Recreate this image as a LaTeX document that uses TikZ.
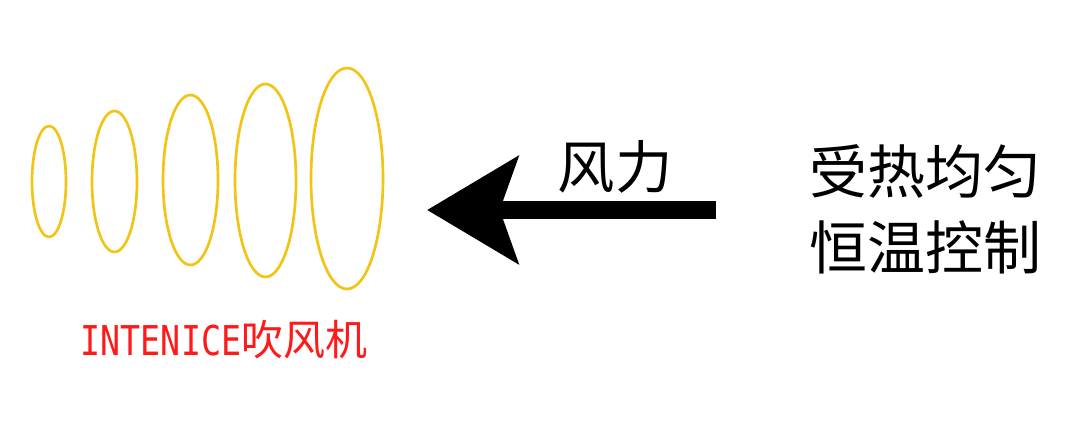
\documentclass[tikz,border=0pt]{standalone}
\usepackage{fontspec}
\usetikzlibrary{arrows.meta}
\newfontfamily\cjk{Noto Sans CJK SC}
\newfontfamily\labelmono[FakeStretch=0.81]{DejaVu Sans Mono}
\definecolor{RING}{HTML}{F2C416}
\definecolor{LABEL_RED}{HTML}{FF1A1A}
\tikzset{
	every node/.style = {font=\cjk, inner sep=0pt},
	ring/.style = {draw=RING, line width=2pt},
	wind/.style = {line width=13.5pt, -{Stealth[length=68pt, width=79.5pt, inset=13.5pt]}}
}
\begin{document}
\begin{tikzpicture}[x=0.75pt, y=-0.75pt]
		\useasboundingbox[fill=white] (0,0) rectangle (1080,424);
		% air rings
		\foreach \cx/\cy/\rx/\ry in {49/181.5/17/55.5, 114.5/181.5/22.5/70.5, 190.5/180/27.5/85,
		                             265.5/180.5/30.5/96.5, 347/178.5/36/110.5}
		  \draw[ring] (\cx,\cy) ellipse ({\rx} and {\ry});
		\node[LABEL_RED, font=\cjk\fontsize{31.5}{36}\selectfont] (dryer) at (224,340)
		      {{\labelmono\fontsize{30.8}{36}\selectfont INTENICE}吹风机};
		% wind arrow
		\coordinate (wind start) at (716,210);
		\coordinate (wind tip) at (427,210);
		\draw[wind] (wind start) -- (wind tip);
		\node[font=\cjk\fontsize{43}{50}\selectfont] (force) at (615,167) {风力};
		% heat text
		\node[font=\cjk\fontsize{43.5}{57}\selectfont, align=center] (heat) at (925,209)
		      {受热均匀\\恒温控制};
	\end{tikzpicture}
\end{document}
